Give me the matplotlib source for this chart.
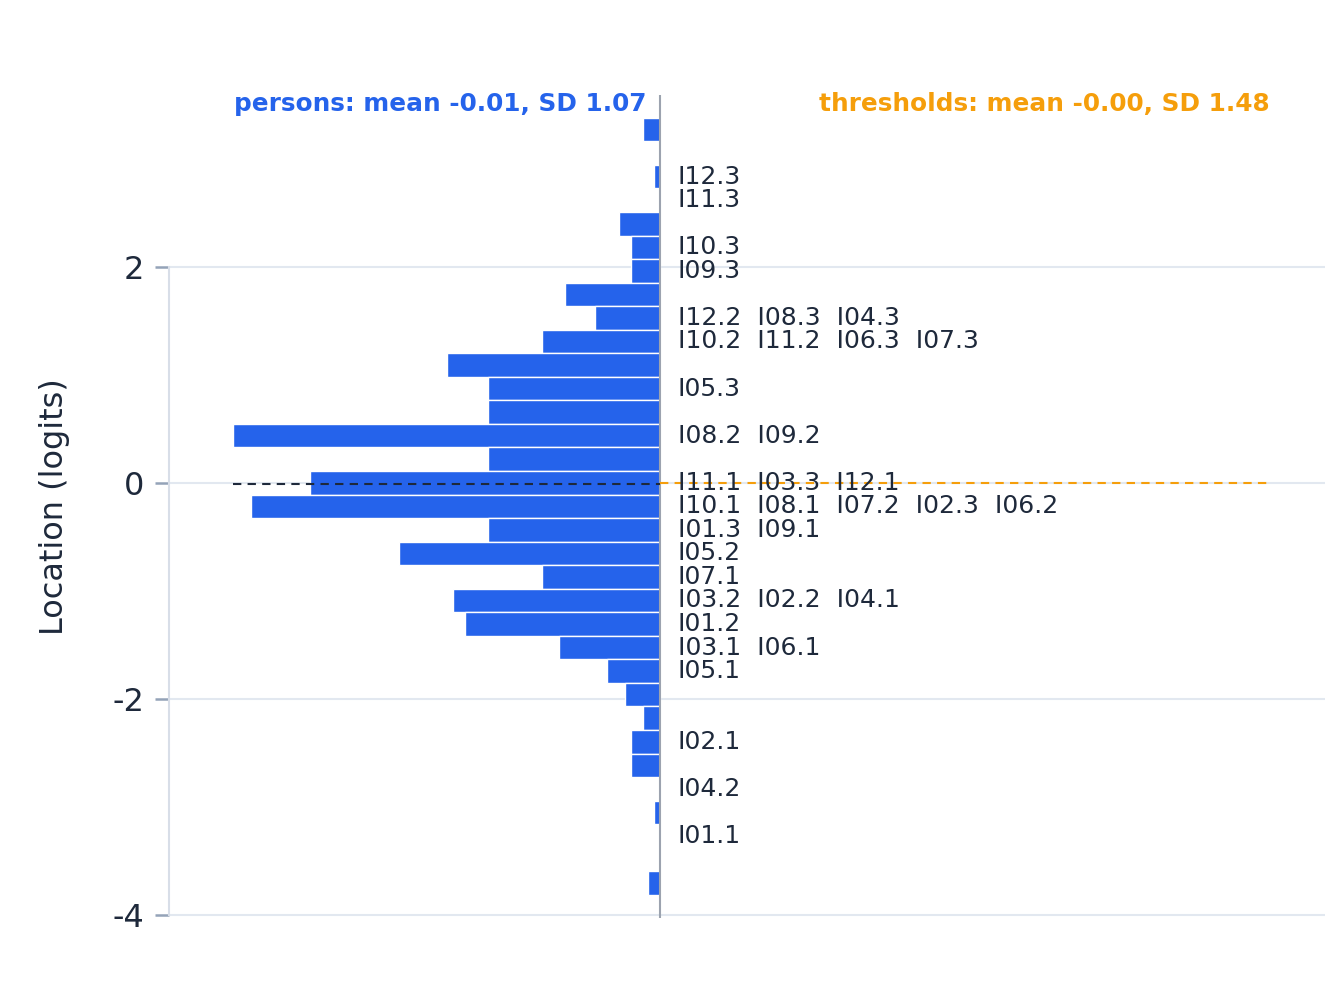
import numpy as np
import matplotlib.pyplot as plt

# person histogram: bin index (bin centre = index * bin_width) and counts
bin_width = 0.218
person_bins = [15, 13, 11, 10, 9, 8, 7, 6, 5, 4, 3, 2, 1, 0, -1, -2, -3, -4,
               -5, -6, -7, -8, -9, -10, -11, -12, -14, -17]
person_counts = [3, 1, 7, 5, 5, 16, 11, 20, 36, 29, 29, 72, 29, 59, 69, 29, 44, 20,
                 35, 33, 17, 9, 6, 3, 5, 5, 1, 2]

# item thresholds grouped by bin
item_bins = [13, 12, 10, 9, 7, 6, 4, 2, 0, -1, -2, -3, -4, -5, -6, -7, -8, -11, -13, -15]
item_labels = [
    ['I12.3'], ['I11.3'], ['I10.3'], ['I09.3'],
    ['I12.2', 'I08.3', 'I04.3'],
    ['I10.2', 'I11.2', 'I06.3', 'I07.3'],
    ['I05.3'], ['I08.2', 'I09.2'],
    ['I11.1', 'I03.3', 'I12.1'],
    ['I10.1', 'I08.1', 'I07.2', 'I02.3', 'I06.2'],
    ['I01.3', 'I09.1'], ['I05.2'], ['I07.1'],
    ['I03.2', 'I02.2', 'I04.1'], ['I01.2'],
    ['I03.1', 'I06.1'], ['I05.1'], ['I02.1'], ['I04.2'], ['I01.1'],
]

person_mean, person_sd = -0.01, 1.07
thr_mean, thr_sd = -0.00, 1.48

blue = '#2563eb'
orange = '#f59e0b'
dark = '#1e293b'

fig = plt.figure(figsize=(13.44, 9.98), dpi=100)
ax = fig.add_axes([169 / 1344, 80 / 998, (1325 - 169) / 1344, (903 - 80) / 998])

ymin, ymax = -4.03, 3.59
ax.set_ylim(ymin, ymax)
cmax = max(person_counts)
xleft = -cmax * 1.15
ax.set_xlim(xleft, 112)

centers = np.array(person_bins) * bin_width
ax.barh(centers, -np.array(person_counts), height=bin_width, color=blue,
        edgecolor='white', linewidth=1, zorder=3)

ax.axvline(0, color='#9ca3af', linewidth=1.5, zorder=4)

for b, labs in zip(item_bins, item_labels):
    ax.text(2.9, b * bin_width, '  '.join(labs), fontsize=18, color=dark,
            va='center', ha='left', zorder=6)

ax.plot([-cmax, 0], [person_mean, person_mean], color=dark, linestyle=(0, (4, 3)),
        linewidth=1.5, zorder=5)
ax.plot([0, 102.7], [thr_mean, thr_mean], color=orange, linestyle=(0, (4, 3)),
        linewidth=1.5, zorder=5)

ax.text(-2.3, 3.51, f'persons: mean {person_mean:.2f}, SD {person_sd:.2f}',
        color=blue, fontsize=17.8, fontweight='bold', ha='right', va='center')
ax.text(102.7, 3.51, f'thresholds: mean -{abs(thr_mean):.2f}, SD {thr_sd:.2f}',
        color=orange, fontsize=17.8, fontweight='bold', ha='right', va='center')

ax.set_yticks([-4, -2, 0, 2])
ax.set_yticklabels(['-4', '-2', '0', '2'])
ax.set_xticks([])
ax.grid(axis='y', color='#e2e8f0', linewidth=1.5, zorder=0)
ax.tick_params(axis='y', length=10, width=1.8, color='#94a3b8', labelsize=23,
               labelcolor=dark, pad=8)
for s in ['top', 'right', 'bottom']:
    ax.spines[s].set_visible(False)
ax.spines['left'].set_color('#d8dee8')
ax.spines['left'].set_linewidth(1.5)
ax.spines['left'].set_bounds(-4, 2)
ax.set_ylabel('Location (logits)', fontsize=23, color=dark, labelpad=30)

fig.savefig('out.png', dpi=100)
